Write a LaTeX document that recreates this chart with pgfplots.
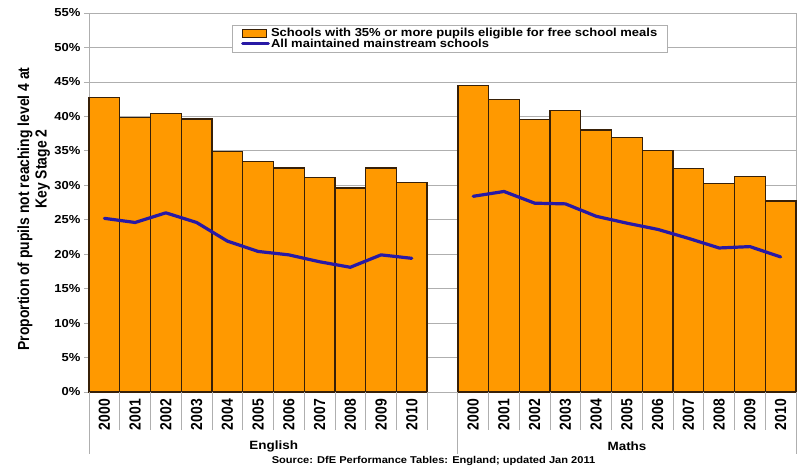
\documentclass[border=0pt]{standalone}
\usepackage{pgfplots}
\pgfplotsset{compat=1.18}
\usepackage{fontspec}
\setmainfont{Liberation Sans}[FakeStretch=1.12]
\newfontfamily\rotfont{Liberation Sans}[FakeStretch=0.87]

\definecolor{barorange}{RGB}{255,153,0}
\definecolor{baredge}{RGB}{55,32,8}
\definecolor{avgline}{RGB}{40,25,165}
\definecolor{gridgray}{RGB}{175,175,175}

\begin{document}
\begin{tikzpicture}[x=1pt,y=1pt]
\useasboundingbox (0,0) rectangle (798,466);
\begin{axis}[
  at={(89pt,74pt)}, anchor=south west,
  scale only axis, width=707pt, height=379pt,
  xmin=-0.5, xmax=22.5, ymin=0, ymax=55,
  clip=false,
  axis line style={draw=gridgray, line width=0.8pt},
  ytick={0,5,...,55},
  yticklabel={\pgfmathprintnumber{\tick}\%},
  /pgf/number format/assume math mode=true,
  ymajorgrids, grid style={draw=gridgray, line width=0.8pt},
  ytick align=outside, ytick pos=left,
  major tick length=5pt,
  ytick style={draw=gridgray, line width=0.8pt},
  xtick={0,1,2,3,4,5,6,7,8,9,10,12,13,14,15,16,17,18,19,20,21,22},
  xticklabels={2000,2001,2002,2003,2004,2005,2006,2007,2008,2009,2010,
               2000,2001,2002,2003,2004,2005,2006,2007,2008,2009,2010},
  xtick style={draw=none},
  xticklabel style={rotate=90, anchor=east, inner sep=0pt,
                    font=\rotfont\bfseries\fontsize{16}{16}\selectfont},
  xticklabel shift=7pt,
  yticklabel style={font=\bfseries\fontsize{11.6}{12}\selectfont},
  legend style={at={(0.2023,0.9683)}, anchor=north west,
                draw=gridgray, fill=white, inner xsep=9pt, inner ysep=2pt,
                row sep=-2pt, nodes={inner sep=1.2pt},
                font=\bfseries\fontsize{11.6}{12}\selectfont},
  legend cell align=left,
]
% Schools with 35% or more pupils eligible for FSM: English 2000-2010, gap, Maths 2000-2010
\addplot[ybar, bar width=1, bar shift=0pt, fill=barorange, draw=baredge, line width=1.3pt,
  legend image code/.code={\draw[fill=barorange, draw=baredge, line width=1pt] (0pt,-4pt) rectangle (24pt,4pt);}]
  coordinates {
    (0,42.7) (1,39.8) (2,40.4) (3,39.6) (4,34.9) (5,33.4) (6,32.5) (7,31.1) (8,29.6) (9,32.5) (10,30.4)
    (12,44.5) (13,42.4) (14,39.5) (15,40.9) (16,38.0) (17,36.9) (18,35.0) (19,32.4) (20,30.3) (21,31.3) (22,27.7)
  };
\addlegendentry{Schools with 35\% or more pupils eligible for free school meals}
% All maintained mainstream schools
\addplot[avgline, line width=3.2pt, line join=round, line cap=round, sharp plot, no markers,
  legend image code/.code={\draw[avgline, line width=2.6pt] (0pt,0pt) -- (26pt,0pt);}]
  coordinates {
    (0,25.2) (1,24.6) (2,26.0) (3,24.6) (4,21.9) (5,20.4) (6,19.9) (7,18.9) (8,18.1) (9,19.9) (10,19.4)
  };
\addlegendentry{All maintained mainstream schools}
\addplot[avgline, line width=3.2pt, line join=round, line cap=round, sharp plot, no markers, forget plot]
  coordinates {
    (12,28.4) (13,29.1) (14,27.4) (15,27.3) (16,25.5) (17,24.5) (18,23.6) (19,22.3) (20,20.9) (21,21.1) (22,19.6)
  };
% category separators below the axis
\pgfplotsinvokeforeach{0.5,1.5,2.5,3.5,4.5,5.5,6.5,7.5,8.5,9.5,10.5,12.5,13.5,14.5,15.5,16.5,17.5,18.5,19.5,20.5,21.5}{
  \draw[gridgray, line width=0.8pt] (axis cs:#1,0) -- ([yshift=-38pt]axis cs:#1,0);
}
\pgfplotsinvokeforeach{-0.5,11.5,22.5}{
  \draw[gridgray, line width=0.8pt] (axis cs:#1,0) -- ([yshift=-62pt]axis cs:#1,0);
}
\end{axis}
% group labels and source
\node[font=\bfseries\fontsize{12}{12}\selectfont] at (273.7,19.3) {English};
\node[font=\bfseries\fontsize{12}{12}\selectfont] at (627,19.3) {Maths};
\node[font=\bfseries\fontsize{9.9}{10}\selectfont] at (433.5,5) {Source: DfE Performance Tables: England; updated Jan 2011};
% y axis title, two lines
\node[rotate=90, font=\rotfont\bfseries\fontsize{16}{16}\selectfont] at (25,257) {Proportion of pupils not reaching level 4 at};
\node[rotate=90, font=\rotfont\bfseries\fontsize{16}{16}\selectfont] at (42.7,297) {Key Stage 2};
\end{tikzpicture}
\end{document}
